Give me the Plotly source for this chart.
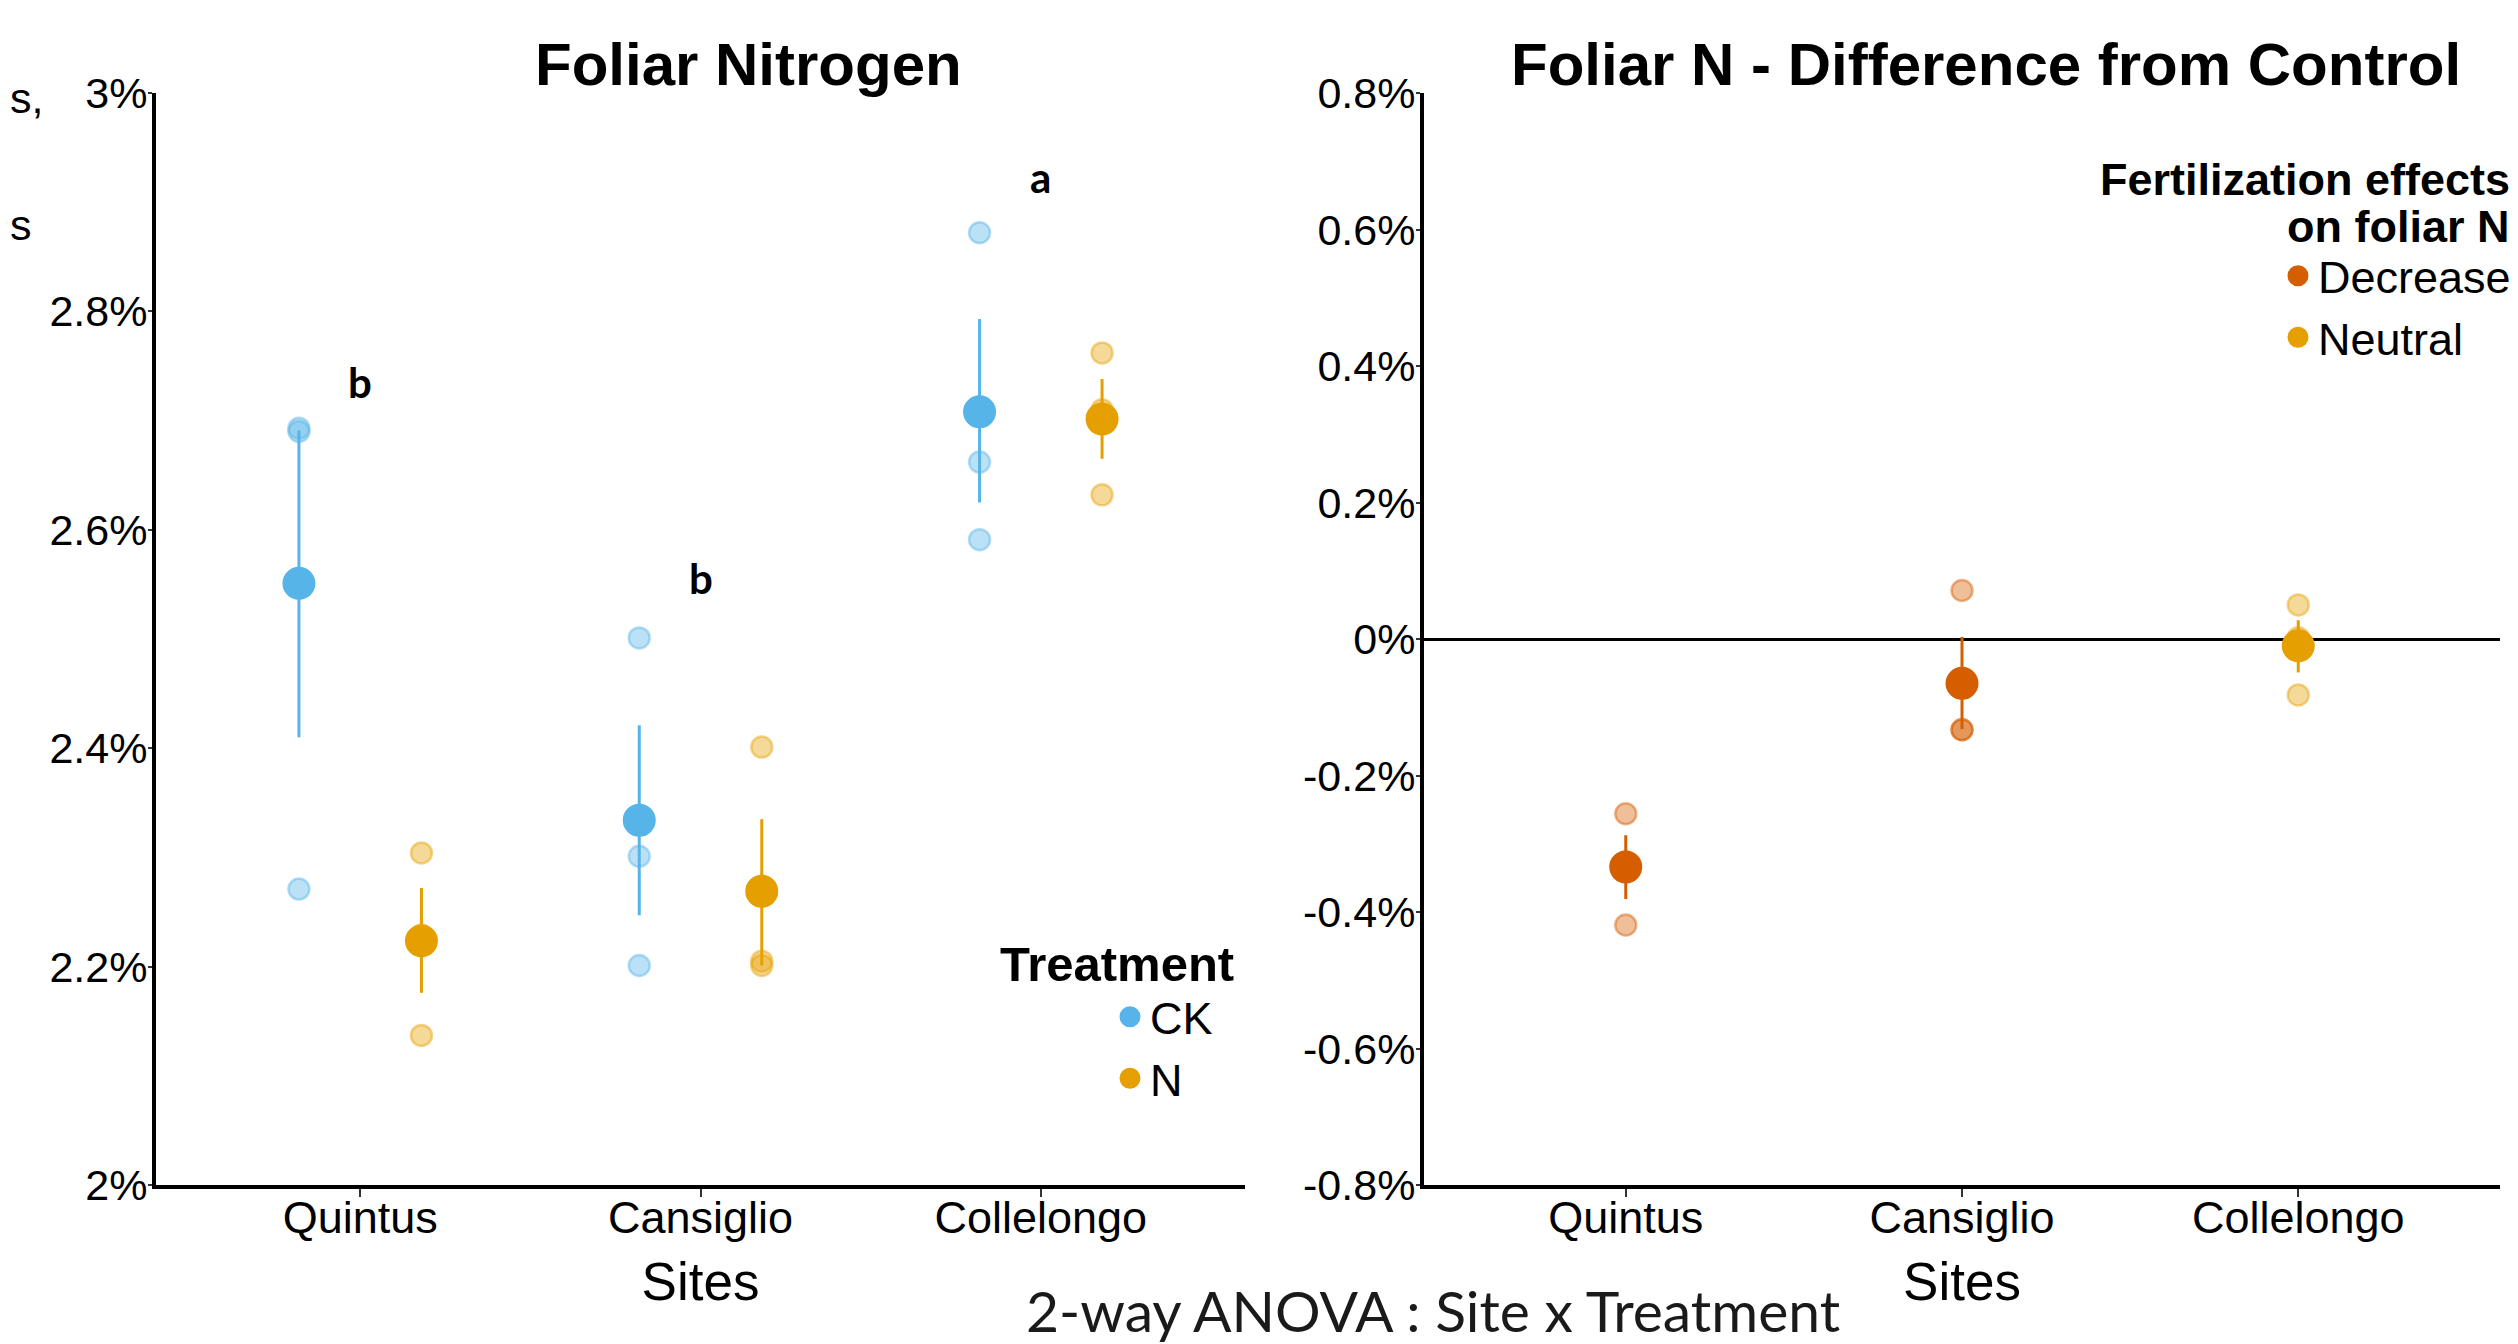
import plotly.graph_objects as go

# ---------------- data ----------------
sites = ["Quintus", "Cansiglio", "Collelongo"]
site_pos = [1, 2, 3]

# Left panel: foliar N (%) by treatment
ck_mean = [2.551, 2.334, 2.708]
ck_lo = [2.410, 2.247, 2.625]
ck_hi = [2.691, 2.421, 2.793]
ck_obs = [[2.693, 2.690, 2.271], [2.501, 2.301, 2.201], [2.872, 2.662, 2.591]]

n_mean = [2.2235, 2.269, 2.7015]
n_lo = [2.176, 2.201, 2.665]
n_hi = [2.272, 2.335, 2.738]
n_obs = [[2.304, 2.229, 2.137], [2.401, 2.205, 2.201], [2.762, 2.710, 2.632]]

# significance letters
letter_sites = [1, 2, 3]
letter_y = [2.735, 2.556, 2.9235]
letters = ["b", "b", "a"]

left_ticks = [2.0, 2.2, 2.4, 2.6, 2.8, 3.0]
left_ticktext = ["2%", "2.2%", "2.4%", "2.6%", "2.8%", "3%"]

# Right panel: difference from control (% points)
diff_mean = [-0.334, -0.065, -0.010]
diff_lo = [-0.381, -0.132, -0.049]
diff_hi = [-0.2875, 0.003, 0.0275]
diff_obs = [[-0.256, -0.327, -0.419], [0.071, -0.133, -0.133], [0.050, 0.002, -0.082]]
effects = ["Decrease", "Decrease", "Neutral"]
effect_order = ["Decrease", "Neutral"]

right_ticks = [-0.8, -0.6, -0.4, -0.2, 0.0, 0.2, 0.4, 0.6, 0.8]
right_ticktext = ["-0.8%", "-0.6%", "-0.4%", "-0.2%", "0%", "0.2%", "0.4%", "0.6%", "0.8%"]

# ---------------- style ----------------
C_CK = "#56B4E9"
C_N = "#E69F00"
EFFECT_COL = {"Decrease": "#D55E00", "Neutral": "#E69F00"}
DODGE = 0.18
FONT = "Liberation Sans"
MEAN_SIZE = 28
MEAN_LINE = 5
OBS_SIZE = 21

PAGE_MARGIN = 8          # default body margin of the html page
W, H = 2518 - PAGE_MARGIN, 1344 - PAGE_MARGIN


def px(xp):
    return (xp - PAGE_MARGIN) / W


def py(yp):
    return 1 - (yp - PAGE_MARGIN) / H


def rgba(hexc, a):
    h = hexc.lstrip("#")
    r, g, b = int(h[0:2], 16), int(h[2:4], 16), int(h[4:6], 16)
    return f"rgba({r},{g},{b},{a})"


fig = go.Figure()


def add_group(xs, mean, lo, hi, obs, color, name, xaxis, yaxis, legend, showlegend=True):
    ox, oy = [], []
    for x, vals in zip(xs, obs):
        for v in vals:
            ox.append(x)
            oy.append(v)
    fig.add_trace(go.Scatter(
        x=ox, y=oy, mode="markers", xaxis=xaxis, yaxis=yaxis,
        marker=dict(size=OBS_SIZE, color=rgba(color, 0.4),
                    line=dict(color=rgba(color, 0.45), width=2.5)),
        showlegend=False, hoverinfo="skip", legendgroup=name))
    fig.add_trace(go.Scatter(
        x=xs, y=mean, mode="markers", name=name, xaxis=xaxis, yaxis=yaxis,
        marker=dict(size=MEAN_SIZE, color=color, line=dict(width=MEAN_LINE, color=color)),
        error_y=dict(type="data", symmetric=False,
                     array=[h - m for h, m in zip(hi, mean)],
                     arrayminus=[m - l for m, l in zip(mean, lo)],
                     color=color, thickness=3, width=0),
        legend=legend, legendgroup=name, showlegend=showlegend))


# left panel
add_group([p - DODGE for p in site_pos], ck_mean, ck_lo, ck_hi, ck_obs, C_CK, "CK", "x", "y", "legend")
add_group([p + DODGE for p in site_pos], n_mean, n_lo, n_hi, n_obs, C_N, "N", "x", "y", "legend")

# right panel
for eff in effect_order:
    idx = [i for i, e in enumerate(effects) if e == eff]
    add_group([site_pos[i] for i in idx], [diff_mean[i] for i in idx],
              [diff_lo[i] for i in idx], [diff_hi[i] for i in idx],
              [diff_obs[i] for i in idx], EFFECT_COL[eff], eff, "x2", "y2", "legend2")

# ---------------- layout ----------------
ydom = [py(1185), py(93)]

axis_common = dict(showline=True, linecolor="black", linewidth=4, ticks="outside",
                   tickcolor="#333333", tickwidth=2, showgrid=False, zeroline=False)
xfont = dict(family=FONT, size=45, color="black")
yfont = dict(family=FONT, size=43, color="black")
xtitle = dict(text="Sites", font=dict(family=FONT, size=53, color="black"), standoff=22)

fig.update_layout(
    width=W, height=H,
    margin=dict(l=0, r=0, t=0, b=0, autoexpand=False),
    paper_bgcolor="white", plot_bgcolor="white",
    font=dict(family=FONT, color="black"),
    xaxis=dict(domain=[px(156), px(1245)], range=[0.4, 3.6], tickvals=site_pos,
               ticktext=sites, ticklen=8, anchor="y", tickfont=xfont,
               ticklabelstandoff=-18, title=xtitle, **axis_common),
    yaxis=dict(domain=ydom, range=[2.0, 3.0], tickvals=left_ticks, ticktext=left_ticktext,
               ticklen=4, anchor="x", tickfont=yfont, ticklabelstandoff=-8, **axis_common),
    xaxis2=dict(domain=[px(1424), px(2500)], range=[0.4, 3.6], tickvals=site_pos,
                ticktext=sites, ticklen=8, anchor="y2", tickfont=xfont,
                ticklabelstandoff=-18, title=xtitle, **axis_common),
    yaxis2=dict(domain=ydom, range=[-0.8, 0.8], tickvals=right_ticks, ticktext=right_ticktext,
                ticklen=4, anchor="x2", tickfont=yfont, ticklabelstandoff=-8, **axis_common),
    legend=dict(x=px(1110), y=py(981), xanchor="left", yanchor="top",
                bgcolor="rgba(0,0,0,0)", font=dict(family=FONT, size=45),
                itemsizing="trace", tracegroupgap=0),
    legend2=dict(x=px(2516), y=py(240), xanchor="right", yanchor="top",
                 bgcolor="rgba(0,0,0,0)", font=dict(family=FONT, size=45),
                 itemsizing="trace", tracegroupgap=0),
)
fig.update_layout(yaxis2_zeroline=True, yaxis2_zerolinecolor="black", yaxis2_zerolinewidth=3)

annotations = [
    dict(text="<b>Foliar Nitrogen</b>", x=px(748), y=py(64), xref="paper", yref="paper",
         showarrow=False, font=dict(family=FONT, size=60), xanchor="center", yanchor="middle"),
    dict(text="<b>Foliar N - Difference from Control</b>", x=px(1986), y=py(64),
         xref="paper", yref="paper", showarrow=False, font=dict(family=FONT, size=60),
         xanchor="center", yanchor="middle"),
    # legend titles
    dict(text="<b>Treatment</b>", x=px(1236), y=py(964), xref="paper", yref="paper",
         showarrow=False, font=dict(family=FONT, size=49), xanchor="right", yanchor="middle"),
    dict(text="<b>Fertilization effects</b>", x=px(2512), y=py(180), xref="paper", yref="paper",
         showarrow=False, font=dict(family=FONT, size=45), xanchor="right", yanchor="middle"),
    dict(text="<b>on foliar N</b>", x=px(2512), y=py(226), xref="paper", yref="paper",
         showarrow=False, font=dict(family=FONT, size=45), xanchor="right", yanchor="middle"),
    dict(text="2-way ANOVA : Site x Treatment", x=px(1433), y=py(1310), xref="paper",
         yref="paper", showarrow=False, font=dict(family="Lato", size=57, color="#1a1a1a"),
         xanchor="center", yanchor="middle"),
    dict(text="s,", x=0.0, y=py(98), xref="paper", yref="paper", showarrow=False,
         font=dict(family=FONT, size=43), xanchor="left", yanchor="middle"),
    dict(text="s", x=0.0, y=py(225), xref="paper", yref="paper", showarrow=False,
         font=dict(family=FONT, size=43), xanchor="left", yanchor="middle"),
]
for xs, ys, t in zip(letter_sites, letter_y, letters):
    annotations.append(dict(text=f"<b>{t}</b>", x=xs, y=ys, xref="x", yref="y", showarrow=False,
                            font=dict(family="Lato", size=42, color="black"),
                            xanchor="center", yanchor="middle"))
fig.update_layout(annotations=annotations)

fig.write_html("out.html")
